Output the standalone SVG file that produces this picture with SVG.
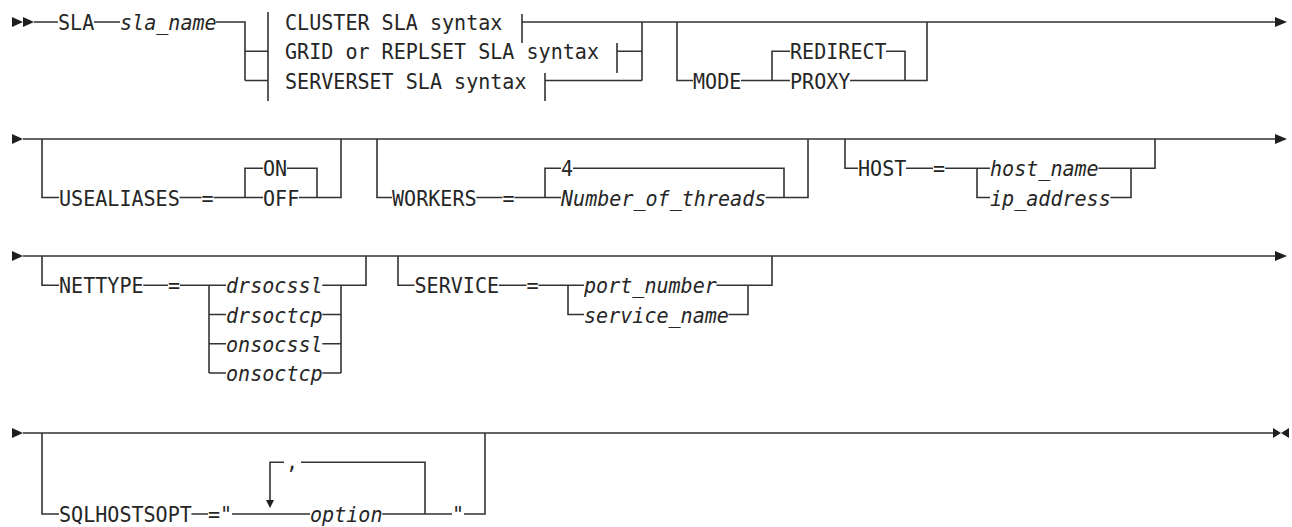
<svg xmlns="http://www.w3.org/2000/svg" width="1292" height="527" viewBox="0 0 1292 527">
<style>
.t{font-family:"DejaVu Sans Mono","Liberation Mono",monospace;font-size:22px;fill:#262626}
.i{font-style:italic}
.c{fill:none;stroke:#333;stroke-width:1.6}
.a{fill:#1f1f1f;stroke:none}
</style>
<rect width="1292" height="527" fill="#fff"/>
<g id="connectors">
<path class="c" d="M34 22H58M94 22H120M216 22H245V80.5M245 51.25H268M245 80.5H268M268 12V101M522 14V43M617 43V73M545 73V101M522 22H1275M617 51.25H642M545 80.5H642M642 22V80.5M677 22V80.5H693M741 80.5H790M772 80.5V51.25H790M886 51.25H905V80.5M850 80.5H927V22"/>
<path class="c" d="M23 139H1275M42 139V197.5H59M179.5 197.5H201.5M213.5 197.5H263M245 197.5V168.25H263M287 168.25H317V197.5M299 197.5H341V139M377 139V197.5H392M476.3 197.5H502.5M514.5 197.5H561M545 197.5V168.25H561M573 168.25H784V197.5M765.7 197.5H808V139M845 139V168.25H858M906 168.25H933M945 168.25H990M977 168.25V197.5H990M1098.4 168.25H1155V139M1131 168.25V197.5H1110.4"/>
<path class="c" d="M23 256H1275M42 256V285.25H59M143.3 285.25H168M180 285.25H226M209 285.25V373M209 314.5H226M209 343.75H226M209 373H226M322.3 285.25H366V256M322.3 314.5H341M322.3 343.75H341M322.3 373H341M341 285.25V373M398 256V285.25H414.5M498.8 285.25H526.5M538.5 285.25H584M568 285.25V314.5H584M716.4 285.25H772V256M728.5 314.5H748V285.25"/>
<path class="c" d="M23 433H1274M42 433V514H59M191.4 514H208M232 514H310M382.2 514H452M464 514H485V433M425 514V462.25H301M284 462.25H270V500"/>
<polygon class="a" points="12,17 12,27 23,22"/>
<polygon class="a" points="23,17 23,27 34,22"/>
<polygon class="a" points="1275,17 1275,27 1287,22"/>
<polygon class="a" points="12,134 12,144 23,139"/>
<polygon class="a" points="1275,134 1275,144 1287,139"/>
<polygon class="a" points="12,251 12,261 23,256"/>
<polygon class="a" points="1275,251 1275,261 1287,256"/>
<polygon class="a" points="12,428 12,438 23,433"/>
<polygon class="a" points="1273,428 1273,438 1281,433"/>
<polygon class="a" points="1289,428 1289,438 1281,433"/>
<polygon class="a" points="266,500 274,500 270,508"/>
</g>
<g id="n-sla"><text class="t" transform="matrix(.912 0 0 1 58 30)">SLA</text></g>
<g id="n-sla-name"><text class="t i" transform="matrix(.912 0 0 1 120 30)">sla_name</text></g>
<g id="n-cluster"><text class="t" transform="matrix(.912 0 0 1 285 30)">CLUSTER SLA syntax</text></g>
<g id="n-grid"><text class="t" transform="matrix(.912 0 0 1 285 59.2)">GRID or REPLSET SLA syntax</text></g>
<g id="n-serverset"><text class="t" transform="matrix(.912 0 0 1 285 88.5)">SERVERSET SLA syntax</text></g>
<g id="n-mode"><text class="t" transform="matrix(.912 0 0 1 693 88.5)">MODE</text></g>
<g id="n-redirect"><text class="t" transform="matrix(.912 0 0 1 790 59.2)">REDIRECT</text></g>
<g id="n-proxy"><text class="t" transform="matrix(.912 0 0 1 790 88.5)">PROXY</text></g>
<g id="n-usealiases"><text class="t" transform="matrix(.912 0 0 1 59 205.5)">USEALIASES</text></g>
<g id="n-eq1"><text class="t" transform="matrix(.912 0 0 1 201.5 205.5)">=</text></g>
<g id="n-on"><text class="t" transform="matrix(.912 0 0 1 263 176.2)">ON</text></g>
<g id="n-off"><text class="t" transform="matrix(.912 0 0 1 263 205.5)">OFF</text></g>
<g id="n-workers"><text class="t" transform="matrix(.912 0 0 1 392 205.5)">WORKERS</text></g>
<g id="n-eq2"><text class="t" transform="matrix(.912 0 0 1 502.5 205.5)">=</text></g>
<g id="n-four"><text class="t" transform="matrix(.912 0 0 1 561 176.2)">4</text></g>
<g id="n-threads"><text class="t i" transform="matrix(.912 0 0 1 561 205.5)">Number_of_threads</text></g>
<g id="n-host"><text class="t" transform="matrix(.912 0 0 1 858 176.2)">HOST</text></g>
<g id="n-eq3"><text class="t" transform="matrix(.912 0 0 1 933 176.2)">=</text></g>
<g id="n-hostname"><text class="t i" transform="matrix(.912 0 0 1 990 176.2)">host_name</text></g>
<g id="n-ip"><text class="t i" transform="matrix(.912 0 0 1 990 205.5)">ip_address</text></g>
<g id="n-nettype"><text class="t" transform="matrix(.912 0 0 1 59 293.2)">NETTYPE</text></g>
<g id="n-eq4"><text class="t" transform="matrix(.912 0 0 1 168 293.2)">=</text></g>
<g id="n-drsocssl"><text class="t i" transform="matrix(.912 0 0 1 226 293.2)">drsocssl</text></g>
<g id="n-drsoctcp"><text class="t i" transform="matrix(.912 0 0 1 226 322.5)">drsoctcp</text></g>
<g id="n-onsocssl"><text class="t i" transform="matrix(.912 0 0 1 226 351.7)">onsocssl</text></g>
<g id="n-onsoctcp"><text class="t i" transform="matrix(.912 0 0 1 226 381)">onsoctcp</text></g>
<g id="n-service"><text class="t" transform="matrix(.912 0 0 1 414.5 293.2)">SERVICE</text></g>
<g id="n-eq5"><text class="t" transform="matrix(.912 0 0 1 526.5 293.2)">=</text></g>
<g id="n-port"><text class="t i" transform="matrix(.912 0 0 1 584 293.2)">port_number</text></g>
<g id="n-servicename"><text class="t i" transform="matrix(.912 0 0 1 584 322.5)">service_name</text></g>
<g id="n-sqlhostsopt"><text class="t" transform="matrix(.912 0 0 1 59 521.5)">SQLHOSTSOPT</text></g>
<g id="n-eqq"><text class="t" transform="matrix(.912 0 0 1 208 521.5)">="</text></g>
<g id="n-comma"><text class="t" transform="matrix(.912 0 0 1 286 468.5)">,</text></g>
<g id="n-option"><text class="t i" transform="matrix(.912 0 0 1 310 521.5)">option</text></g>
<g id="n-quote"><text class="t" transform="matrix(.912 0 0 1 452 521.5)">"</text></g>
</svg>
